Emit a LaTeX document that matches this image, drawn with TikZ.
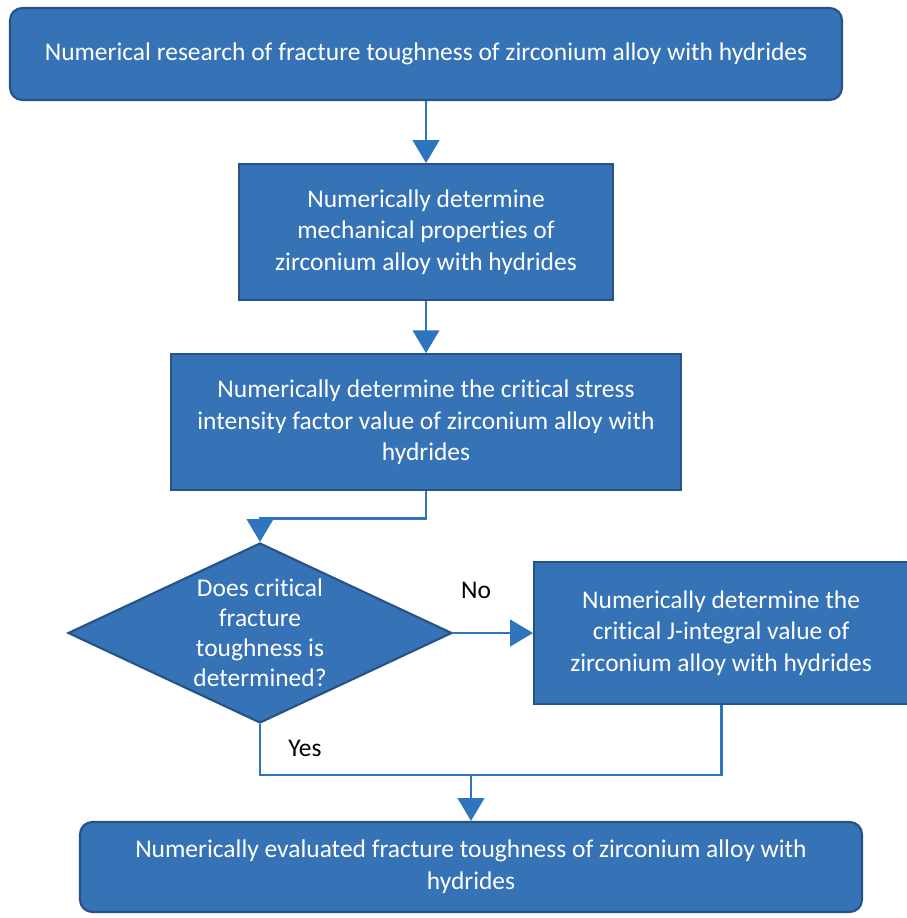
\documentclass[tikz,border=0pt]{standalone}
\usepackage{fontspec}
\setmainfont{Carlito}[Ligatures={NoCommon,NoRare,NoContextual}, Contextuals=NoAlternate]
\usetikzlibrary{
  shapes.geometric,
  arrows.meta,
  positioning,
  calc
}
\definecolor{boxblue}{RGB}{54,114,182}
\definecolor{boxedge}{RGB}{38,82,134}
\definecolor{lineblue}{RGB}{46,117,190}
\newcommand{\flowfont}{\fontsize{14.5}{18}\selectfont}
\tikzset{
  roundbox/.style={
    rectangle, draw=boxedge, fill=boxblue, line width=1.2pt,
    rounded corners=7pt, text=white, align=center, font=\flowfont
  },
  stepbox/.style={
    rectangle, draw=boxedge, fill=boxblue, line width=1.2pt,
    text=white, align=center, font=\flowfont
  },
  decision/.style={
    diamond, draw=boxedge, fill=boxblue, line width=1.2pt,
    aspect=2.13, inner sep=0pt, text=white, align=center,
    font=\fontsize{14.5}{17}\selectfont
  },
  arrow/.style={-{Triangle[length=13pt, width=15pt]}, line width=1.6pt, lineblue},
  line/.style={draw, line width=1.6pt, lineblue},
  lbl/.style={font=\flowfont, text=black},
}

\begin{document}
\begin{tikzpicture}[node distance=1.2cm]

		\useasboundingbox (0,0) rectangle (18.12,-18.36);

		%% Start
		\node[roundbox, minimum width=16.64cm, minimum height=1.84cm]
		at (8.52,-1.08)                          (start)
		{Numerical research of fracture toughness of zirconium alloy with hydrides};

		%% Determination steps
		\node[stepbox, minimum width=7.48cm, minimum height=2.72cm,
			below=1.24cm of start]                 (mech)
		{Numerically determine\\mechanical properties of\\zirconium alloy with hydrides};
		\node[stepbox, minimum width=10.2cm, minimum height=2.72cm,
			below=1.04cm of mech]                  (sif)
		{Numerically determine the critical stress\\intensity factor value of zirconium alloy with\\hydrides};

		%% Decision
		\node[decision, minimum width=7.68cm, minimum height=3.6cm]
		at (5.2,-12.66)                          (check)
		{Does critical\\fracture\\toughness is\\determined?};
		\node[stepbox, minimum width=7.48cm, minimum height=2.84cm,
			right=1.6cm of check]                  (jint)
		{Numerically determine the\\critical J-integral value of\\zirconium alloy with hydrides};

		%% Result
		\node[roundbox, minimum width=15.64cm, minimum height=1.8cm]
		at (9.42,-17.34)                         (result)
		{Numerically evaluated fracture toughness of zirconium alloy with\\hydrides};

		%% Arrows
		\foreach \from/\to in {start/mech, mech/sif}
		\draw[arrow] (\from) -- (\to);
		\draw[arrow] (sif.south) -- ++(0,-0.54) -| (check.north);
		\draw[arrow] (check.east) -- (jint.west);

		%% Merge of both branches
		\coordinate (merge) at (result.north |- 0,-15.5);
		\draw[line] (check.south) |- (merge) -| (jint.south);
		\draw[arrow] (merge) -- (result.north);

		%% Branch labels
		\node[lbl] at (9.52,-11.8)  (no)  {No};
		\node[lbl] at (6.1,-14.96)  (yes) {Yes};

	\end{tikzpicture}
\end{document}
